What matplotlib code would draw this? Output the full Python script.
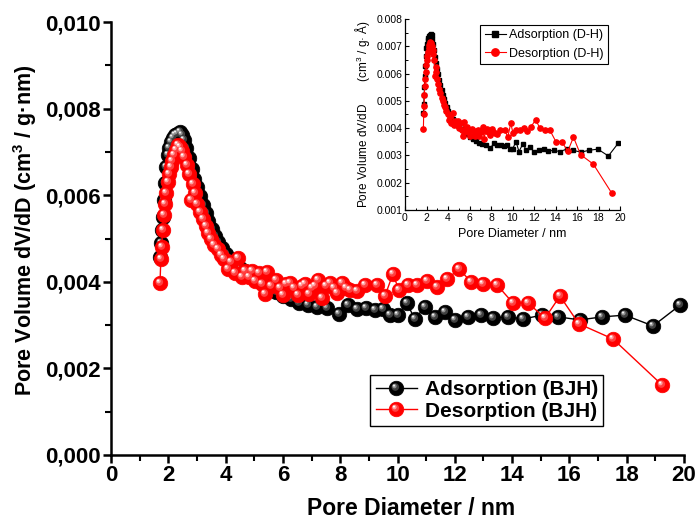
import numpy as np
import matplotlib
matplotlib.use("Agg")
import matplotlib.pyplot as plt
from matplotlib.path import Path
from matplotlib.lines import Line2D
from matplotlib.legend_handler import HandlerTuple
from matplotlib.ticker import FuncFormatter, MultipleLocator

plt.rcParams['font.family'] = ['Liberation Sans', 'DejaVu Sans']
plt.rcParams['mathtext.fontset'] = 'custom'
plt.rcParams['mathtext.rm'] = 'Liberation Sans'
plt.rcParams['mathtext.bf'] = 'Liberation Sans:bold'

# ---------------- data (pore diameter in nm, dV/dD in 1e-3 units) ----------------
ads_x = [1.72, 1.75, 1.78, 1.81, 1.84, 1.88, 1.93, 1.98, 2.04, 2.10, 2.17, 2.24, 2.32, 2.40, 2.47,
         2.55, 2.63, 2.72, 2.81, 2.90, 3.00, 3.10, 3.20, 3.30, 3.40, 3.51, 3.62, 3.74, 3.87, 4.01,
         4.16, 4.32, 4.49, 4.67, 4.86, 5.06, 5.28, 5.51, 5.75, 6.00, 6.28, 6.57, 6.88, 7.20, 7.55,
         7.95, 8.27, 8.60, 8.90, 9.20, 9.50, 9.74, 10.00, 10.33, 10.60, 10.96, 11.30, 11.66, 12.00,
         12.46, 12.90, 13.33, 13.86, 14.38, 15.04, 15.60, 16.37, 17.14, 17.94, 18.92, 19.86]
ads_y = [4.57, 4.90, 5.20, 5.50, 5.90, 6.28, 6.65, 6.92, 7.10, 7.22, 7.32, 7.38, 7.42, 7.45, 7.40,
         7.28, 7.08, 6.85, 6.60, 6.38, 6.18, 5.98, 5.78, 5.58, 5.40, 5.22, 5.06, 4.92, 4.78, 4.64,
         4.52, 4.42, 4.33, 4.25, 4.16, 4.07, 3.97, 3.87, 3.77, 3.68, 3.60, 3.52, 3.46, 3.42, 3.40,
         3.26, 3.46, 3.38, 3.39, 3.36, 3.37, 3.23, 3.23, 3.51, 3.14, 3.42, 3.19, 3.30, 3.12,
         3.19, 3.23, 3.16, 3.19, 3.14, 3.23, 3.19, 3.12, 3.19, 3.23, 2.98, 3.46]

des_x = [1.71, 1.74, 1.77, 1.80, 1.84, 1.88, 1.93, 1.98, 2.03, 2.08, 2.13, 2.19, 2.26, 2.33, 2.40,
         2.48, 2.56, 2.64, 2.72, 2.78, 2.85, 2.93, 3.01, 3.10, 3.20, 3.30, 3.40, 3.50, 3.61, 3.72,
         3.84, 3.96, 4.08, 4.20, 4.32, 4.44, 4.56, 4.68, 4.80, 4.92, 5.04, 5.16, 5.28, 5.37, 5.46,
         5.60, 5.75, 5.90, 6.00, 6.12, 6.25, 6.40, 6.52, 6.65, 6.77, 6.90, 7.02, 7.12, 7.22, 7.36,
         7.50, 7.64, 7.78, 7.90, 8.06, 8.20, 8.34, 8.60, 8.87, 9.28, 9.56, 9.84, 10.05, 10.37,
         10.68, 11.03, 11.38, 11.73, 12.15, 12.56, 12.98, 13.47, 14.03, 14.56, 15.15, 15.67, 16.33,
         17.52, 19.23]
des_y = [3.97, 4.53, 4.80, 5.20, 5.55, 5.80, 6.05, 6.30, 6.50, 6.65, 6.80, 6.93, 7.05, 7.16, 7.12,
         7.02, 6.88, 6.70, 6.50, 5.90, 6.25, 6.05, 5.80, 5.62, 5.45, 5.28, 5.12, 4.98, 4.86, 4.76,
         4.62, 4.52, 4.30, 4.45, 4.20, 4.55, 4.12, 4.25, 4.10, 4.25, 4.02, 4.20, 3.95, 3.72, 4.23,
         3.90, 4.04, 3.85, 3.70, 3.95, 3.97, 3.85, 3.70, 3.90, 3.95, 3.72, 3.86, 3.90, 4.04, 3.62,
         3.90, 3.97, 3.85, 3.74, 3.97, 3.85, 3.81, 3.78, 3.93, 3.93, 3.67, 4.18, 3.81, 3.93,
         3.93, 4.02, 3.88, 4.06, 4.30, 4.00, 3.95, 3.93, 3.51, 3.51, 3.16, 3.67, 3.03,
         2.68, 1.62]

ads_y = [v * 1e-3 for v in ads_y]
des_y = [v * 1e-3 for v in des_y]

main_xticks = list(range(0, 21, 2))
main_yticks = [0.000, 0.002, 0.004, 0.006, 0.008, 0.010]
inset_yticks = [0.001, 0.002, 0.003, 0.004, 0.005, 0.006, 0.007, 0.008]


# ---------------- glossy sphere markers ----------------
def spot(cx, cy, r):
    c = Path.circle(center=(cx, cy), radius=r)
    verts = np.vstack([[[-1.0, -1.0], [1.0, 1.0]], c.vertices])
    codes = np.concatenate([[Path.MOVETO, Path.MOVETO], c.codes])
    return Path(verts, codes)


spot1 = spot(-0.16, 0.20, 0.52)
spot2 = spot(-0.28, 0.32, 0.30)
spot3 = spot(-0.34, 0.40, 0.14)


def sphere(ax, x, y, base, c1, c2, c3, ms, lw, z):
    ax.plot(x, y, '-', color=base, lw=lw, zorder=z, clip_on=False)
    ax.plot(x, y, 'o', color=base, mec=base, ms=ms, mew=0.5, zorder=z, clip_on=False)
    ax.plot(x, y, ls='none', marker=spot1, mfc=c1, mec='none', ms=ms, zorder=z, clip_on=False)
    ax.plot(x, y, ls='none', marker=spot2, mfc=c2, mec='none', ms=ms, zorder=z, clip_on=False)
    ax.plot(x, y, ls='none', marker=spot3, mfc=c3, mec='none', ms=ms, zorder=z, clip_on=False)


def sphere_handle(base, c1, c2, c3, ms, lw):
    h0 = Line2D([], [], color=base, lw=lw, marker='o', ms=ms, mfc=base, mec=base, mew=0.5)
    h1 = Line2D([], [], ls='none', marker=spot1, mfc=c1, mec='none', ms=ms)
    h2 = Line2D([], [], ls='none', marker=spot2, mfc=c2, mec='none', ms=ms)
    h3 = Line2D([], [], ls='none', marker=spot3, mfc=c3, mec='none', ms=ms)
    return (h0, h1, h2, h3)


W, H = 697, 525
fig = plt.figure(figsize=(W / 100, H / 100), dpi=100)

# ---------------- main axes ----------------
ax = fig.add_axes([111 / W, (H - 455) / H, (684 - 111) / W, (455 - 22) / H])
ax.set_xlim(0, 20)
ax.set_ylim(0, 0.010)

blk = ('#000000', '#404040', '#909090', '#f2f2f2')
red = ('#ff0000', '#ff4040', '#ffa0a0', '#ffffff')
MS = 10.5
sphere(ax, ads_x, ads_y, *blk, ms=MS, lw=1.0, z=3)
sphere(ax, des_x, des_y, *red, ms=MS, lw=1.0, z=4)

for s in ['top', 'right']:
    ax.spines[s].set_visible(False)
for s in ['left', 'bottom']:
    ax.spines[s].set_linewidth(1.8)

ax.set_xticks(main_xticks)
ax.set_yticks(main_yticks)
ax.xaxis.set_minor_locator(MultipleLocator(1))
ax.yaxis.set_minor_locator(MultipleLocator(0.001))
ax.yaxis.set_major_formatter(FuncFormatter(lambda v, p: f"{v:.3f}".replace('.', ',')))
ax.tick_params(which='major', direction='out', length=6, width=1.8, labelsize=16, pad=1.5)
ax.tick_params(which='minor', direction='out', length=4, width=1.5)
for lab in ax.get_xticklabels() + ax.get_yticklabels():
    lab.set_fontweight('bold')

ax.set_xlabel('Pore Diameter / nm', fontsize=16.5, fontweight='bold')
ax.xaxis.set_label_coords(0.524, -0.098)
ax.set_ylabel(r'Pore Volume dV/dD (cm$^{\mathbf{3}}$ / g·nm)', fontsize=15.5, fontweight='bold')
ax.yaxis.set_label_coords(-0.126, 0.52)

leg = ax.legend([sphere_handle(*blk, ms=MS, lw=1.0), sphere_handle(*red, ms=MS, lw=1.0)],
                ['Adsorption (BJH)', 'Desorption (BJH)'],
                loc='upper right', bbox_to_anchor=(603 / W, 1 - 375 / H), bbox_transform=fig.transFigure,
                borderaxespad=0, fancybox=False, framealpha=1, edgecolor='black',
                prop={'weight': 'bold', 'size': 15}, handlelength=2.0, handletextpad=0.35,
                labelspacing=0.12, borderpad=0.25,
                handler_map={tuple: HandlerTuple(ndivide=1, pad=0)})
leg.get_frame().set_linewidth(1.0)

# ---------------- inset ----------------
ins = fig.add_axes([405 / W, (H - 210) / H, (620 - 405) / W, (210 - 19) / H])
ins.set_xlim(0, 20)
ins.set_ylim(0.001, 0.008)
ins.plot(ads_x, ads_y, '-s', color='black', lw=0.8, ms=3.0, label='Adsorption (D-H)')
ins.plot(des_x, des_y, '-o', color='#ff0000', lw=0.8, ms=3.8, label='Desorption (D-H)')
for s in ['top', 'right']:
    ins.spines[s].set_visible(False)
for s in ['left', 'bottom']:
    ins.spines[s].set_linewidth(0.9)
ins.set_xticks(list(range(0, 21, 2)))
ins.set_yticks(inset_yticks)
ins.xaxis.set_minor_locator(MultipleLocator(1))
ins.yaxis.set_minor_locator(MultipleLocator(0.0005))
ins.yaxis.set_major_formatter(FuncFormatter(lambda v, p: f"{v:.3f}"))
ins.tick_params(which='major', direction='in', length=3, width=0.8, labelsize=7.5, pad=2)
ins.tick_params(which='minor', direction='in', length=1.8, width=0.7)
ins.set_xlabel('Pore Diameter / nm', fontsize=9, labelpad=4)
ins.set_ylabel('Pore Volume dV/dD       (cm$^3$ / g· Å)', fontsize=8.5, labelpad=3)
ileg = ins.legend(loc='upper right', bbox_to_anchor=(608 / W, 1 - 25 / H), bbox_transform=fig.transFigure,
                  borderaxespad=0, fancybox=False, framealpha=1, edgecolor='black',
                  fontsize=9, handlelength=1.7, handletextpad=0.25, labelspacing=0.5,
                  borderpad=0.35, markerscale=1.4)
ileg.get_frame().set_linewidth(0.8)

fig.savefig('out.png', dpi=100)
